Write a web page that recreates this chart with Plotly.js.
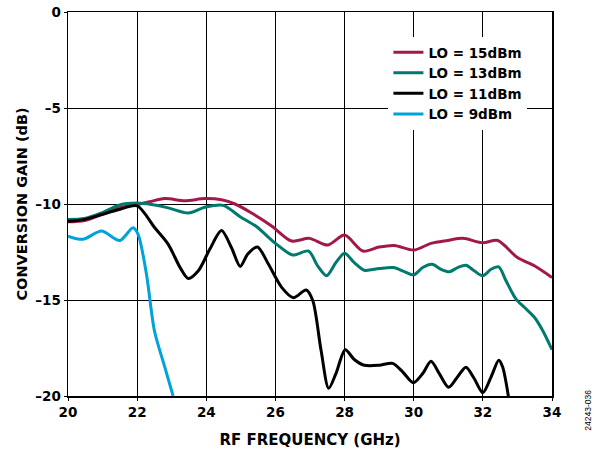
<!DOCTYPE html>
<html><head><meta charset="utf-8">
<script src="https://cdn.plot.ly/plotly-3.0.1.min.js"></script>
<style>html,body{margin:0;padding:0;background:#fff}#chart{width:603px;height:453px}</style>
</head><body><div id="chart"></div>
<script>
const freq15 = [20,20.48,20.97,21.45,22,22.32,22.8,23.38,23.96,24.44,24.83,25.31,25.9,26.47,26.98,27.51,28,28.53,29,29.44,30,30.5,30.98,31.42,32,32.43,33,33.49,34];
const gain15 = [-10.93,-10.86,-10.55,-10.2,-10.03,-9.9,-9.72,-9.83,-9.72,-9.78,-10.0,-10.47,-11.16,-11.93,-11.79,-12.14,-11.62,-12.45,-12.24,-12.16,-12.4,-12.05,-11.9,-11.79,-12.02,-11.9,-12.79,-13.22,-13.83];

const freq13 = [20,20.48,20.97,21.45,22,22.42,22.9,23.48,23.96,24.49,24.98,25.44,26,26.5,26.96,27.22,27.48,27.75,28,28.28,28.57,29,29.41,29.73,30,30.26,30.53,30.79,31.03,31.27,31.51,31.75,32,32.24,32.46,32.67,32.96,33.2,33.49,33.73,34];
const gain13 = [-10.81,-10.76,-10.47,-10.07,-9.95,-10.03,-10.2,-10.47,-10.17,-10.07,-10.66,-11.16,-12.05,-12.66,-12.45,-13.22,-13.74,-13.05,-12.57,-13.05,-13.45,-13.36,-13.31,-13.52,-13.69,-13.31,-13.14,-13.4,-13.53,-13.31,-13.19,-13.48,-13.74,-13.4,-13.28,-14.0,-14.95,-15.38,-15.9,-16.59,-17.59];

const freq11 = [20,20.48,20.97,21.45,22,22.51,22.9,23.24,23.48,23.77,24.1,24.44,24.73,24.98,25.2,25.48,25.8,26.18,26.52,26.89,27.08,27.32,27.54,27.75,28.02,28.28,28.57,29.0,29.39,29.68,29.99,30.26,30.5,30.74,31.01,31.27,31.51,31.75,32.0,32.24,32.46,32.57,32.74];
const gain11 = [-10.9,-10.8,-10.55,-10.3,-10.1,-11.24,-12.1,-13.3,-13.88,-13.48,-12.36,-11.38,-12.28,-13.25,-12.6,-12.24,-13.14,-14.34,-14.88,-14.48,-15.03,-17.62,-19.6,-18.83,-17.59,-18.1,-18.4,-18.4,-18.3,-18.74,-19.31,-18.83,-18.19,-18.83,-19.55,-19.0,-18.5,-19.09,-19.83,-19.0,-18.14,-18.48,-20.03];

const freq9 = [20,20.43,20.97,21.5,21.88,22.03,22.27,22.5,22.8,23.04];
const gain9 = [-11.67,-11.84,-11.41,-11.9,-11.24,-11.59,-13.66,-16.6,-18.5,-20.0];

const xTicks = [20,22,24,26,28,30,32,34];
const yTicks = [0,-5,-10,-15,-20];

const FONT = 'DejaVu Sans, sans-serif';
function tr(x,y,name,color){
  return {x:x,y:y,name:name,type:'scatter',mode:'lines',line:{color:color,width:3,shape:'spline',smoothing:0.8}};
}
const data = [
  tr(freq15,gain15,'<b>LO = 15dBm</b>','#a3184b'),
  tr(freq13,gain13,'<b>LO = 13dBm</b>','#00796e'),
  tr(freq11,gain11,'<b>LO = 11dBm</b>','#000000'),
  tr(freq9,gain9,'<b>LO = 9dBm</b>','#00a3d9')
];
const layout = {
  width:603,height:453,
  margin:{l:68,r:51,t:12,b:57},
  paper_bgcolor:'#fff',plot_bgcolor:'#fff',
  font:{family:FONT,color:'#000',size:13.5},
  showlegend:true,
  legend:{x:0.662,y:0.935,xanchor:'left',yanchor:'top',bgcolor:'#fff',borderwidth:0,
          font:{family:FONT,size:13.5,color:'#000'},tracegroupgap:0,itemwidth:30},
  xaxis:{range:[20,34],tickvals:xTicks,ticktext:xTicks.map(v=>'<b>'+v+'</b>'),
         showgrid:true,gridcolor:'#000',gridwidth:1,zeroline:false,
         showline:true,linecolor:'#000',linewidth:1.5,mirror:true,
         ticks:'outside',ticklen:3,tickcolor:'#000',
         tickfont:{family:FONT,size:13.5,color:'#000'},
         title:{text:'<b>RF FREQUENCY (GHz)</b>',font:{family:FONT,size:15,color:'#000'},standoff:16}},
  yaxis:{range:[-20,0],tickvals:yTicks,ticktext:yTicks.map(v=>'<b>'+(v<0?'\u2013'+(-v):v)+'</b>'),
         showgrid:true,gridcolor:'#000',gridwidth:1,zeroline:false,
         showline:true,linecolor:'#000',linewidth:1.5,mirror:true,
         ticks:'outside',ticklen:3,tickcolor:'#000',
         tickfont:{family:FONT,size:13.5,color:'#000'},
         title:{text:'<b>CONVERSION GAIN (dB)</b>',font:{family:FONT,size:14.5,color:'#000'},standoff:4}},
  annotations:[{text:'24243-036',xref:'paper',yref:'paper',x:1.074,y:-0.036,textangle:-90,
    showarrow:false,font:{family:'Liberation Sans, Arial, sans-serif',size:8.5,color:'#000'},xanchor:'center',yanchor:'middle'}]
};
Plotly.newPlot('chart',data,layout,{displayModeBar:false,staticPlot:true});
</script></body></html>
